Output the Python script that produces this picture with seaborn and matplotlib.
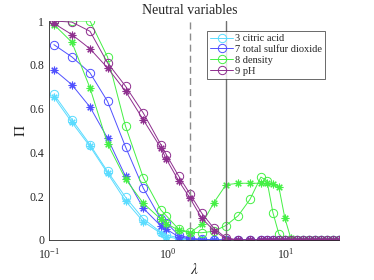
import numpy as np
import pandas as pd
import matplotlib
matplotlib.use('Agg')
import matplotlib.pyplot as plt
import seaborn as sns
from matplotlib.ticker import LogLocator, NullFormatter

# regularisation grid
lam = [0.11, 0.156, 0.222, 0.312, 0.443, 0.625, 0.88, 0.98, 1.24, 1.55,
       1.95, 2.47, 3.12, 3.96, 4.97, 6.15, 6.92, 7.77, 8.73, 9.81,
       11.0, 12.4, 13.9, 15.6, 17.6, 19.7, 22.2, 24.9, 28.0]

# circles (o) and asterisks (*) per variable
citric_o = [0.665, 0.55, 0.435, 0.313, 0.195, 0.097, 0.035, 0.023, 0.01, 0.003,
            0, 0, 0, 0, 0, 0, 0, 0, 0, 0, 0, 0, 0, 0, 0, 0, 0, 0, 0]
citric_s = [0.653, 0.537, 0.427, 0.305, 0.178, 0.084, 0.03, 0.015, 0.005, 0,
            0, 0, 0, 0, 0, 0, 0, 0, 0, 0, 0, 0, 0, 0, 0, 0, 0, 0, 0]
sulfur_o = [0.892, 0.836, 0.763, 0.633, 0.425, 0.237, 0.095, 0.078, 0.023, 0.008,
            0.003, 0, 0, 0, 0, 0, 0, 0, 0, 0, 0, 0, 0, 0, 0, 0, 0, 0, 0]
sulfur_s = [0.778, 0.709, 0.607, 0.465, 0.29, 0.145, 0.064, 0.049, 0.015, 0.005,
            0, 0, 0, 0, 0, 0, 0, 0, 0, 0, 0, 0, 0, 0, 0, 0, 0, 0, 0]
density_o = [1.0, 1.0, 1.0, 0.836, 0.519, 0.285, 0.137, 0.11, 0.05, 0.035,
             0.033, 0.04, 0.066, 0.111, 0.185, 0.287, 0.271, 0.125, 0.027, 0,
             0, 0, 0, 0, 0, 0, 0, 0, 0]
density_s = [0.984, 0.903, 0.694, 0.44, 0.278, 0.168, 0.095, 0.075, 0.045, 0.033,
             0.072, 0.171, 0.252, 0.259, 0.259, 0.259, 0.259, 0.256, 0.241, 0.099,
             0.008, 0, 0, 0, 0, 0, 0, 0, 0]
ph_o = [1.0, 0.995, 0.953, 0.809, 0.702, 0.58, 0.435, 0.389, 0.293, 0.21,
        0.122, 0.053, 0.01, 0, 0, 0, 0, 0, 0, 0, 0, 0, 0, 0, 0, 0, 0, 0, 0]
ph_s = [0.989, 0.938, 0.873, 0.786, 0.679, 0.549, 0.42, 0.369, 0.271, 0.191,
        0.099, 0.043, 0.005, 0, 0, 0, 0, 0, 0, 0, 0, 0, 0, 0, 0, 0, 0, 0, 0]

labels = ['3 citric acid', '7 total sulfur dioxide', '8 density', '9 pH']
colors = ['#5adcff', '#5050ff', '#44f044', '#8e2e8e']
series = [(citric_o, citric_s), (sulfur_o, sulfur_s),
          (density_o, density_s), (ph_o, ph_s)]

neutral_lo = 1.55
neutral_hi = 3.12

# matlab-like asterisk: eight thin arms
ASTERISK = (8, 2, 0)


def main():
    sns.set_style('white')
    plt.rcParams['font.family'] = ['Liberation Serif', 'DejaVu Serif']
    plt.rcParams['mathtext.fontset'] = 'stix'
    plt.rcParams['xtick.direction'] = 'in'
    plt.rcParams['ytick.direction'] = 'in'

    fig = plt.figure(figsize=(3.74, 2.8), dpi=100)
    ax = fig.add_axes([0.131, 0.143, 0.775, 0.782])

    for lab, col, (vo, vs) in zip(labels, colors, series):
        sns.lineplot(x=lam, y=vo, ax=ax, color=col, marker='o', markersize=6,
                     markerfacecolor='none', markeredgecolor=col,
                     markeredgewidth=0.7, linewidth=0.7, label=lab)
        sns.lineplot(x=lam, y=vs, ax=ax, color=col, marker=ASTERISK, markersize=5.5,
                     markeredgecolor=col, markeredgewidth=0.8, linewidth=0.7,
                     label='_nolegend_')

    ax.axvline(neutral_lo, color='#8c8c8c', linestyle=(0, (5, 3)), linewidth=1.0)
    ax.axvline(neutral_hi, color='#707070', linewidth=1.0)
    ax.text(neutral_lo, 1.048, 'Neutral variables', transform=ax.get_xaxis_transform(),
            ha='center', va='center', fontsize=10)

    ax.set_xscale('log')
    ax.set_xlim(0.1, 28.0)
    ax.set_ylim(0, 1)
    ax.xaxis.set_major_locator(LogLocator(base=10))
    ax.xaxis.set_minor_locator(LogLocator(base=10, subs=np.arange(2, 10)))
    ax.xaxis.set_minor_formatter(NullFormatter())
    ax.set_yticks([0, 0.2, 0.4, 0.6, 0.8, 1.0])
    ax.set_yticklabels(['0', '0.2', '0.4', '0.6', '0.8', '1'])
    ax.tick_params(axis='both', which='major', labelsize=8.5, length=3,
                   width=0.6, colors='#262626')
    ax.tick_params(axis='x', which='major', pad=5)
    ax.tick_params(axis='x', which='minor', length=1.8, width=0.5, colors='#262626')

    ax.set_xlabel(r'$\lambda$', fontsize=11, labelpad=0)
    ax.set_ylabel(r'$\Pi$', fontsize=11, labelpad=1)

    for side in ['top', 'right']:
        ax.spines[side].set_visible(False)
    for side in ['left', 'bottom']:
        ax.spines[side].set_color('#262626')
        ax.spines[side].set_linewidth(0.6)

    leg = ax.legend(loc='upper left', bbox_to_anchor=(0.545, 0.955), fontsize=7.5,
                    frameon=True, fancybox=False, edgecolor='#262626',
                    handlelength=2.2, handletextpad=0.2, borderpad=0.3,
                    labelspacing=0.15, borderaxespad=0)
    leg.get_frame().set_linewidth(0.6)

    fig.savefig('out.png', dpi=100)


if __name__ == '__main__':
    main()
